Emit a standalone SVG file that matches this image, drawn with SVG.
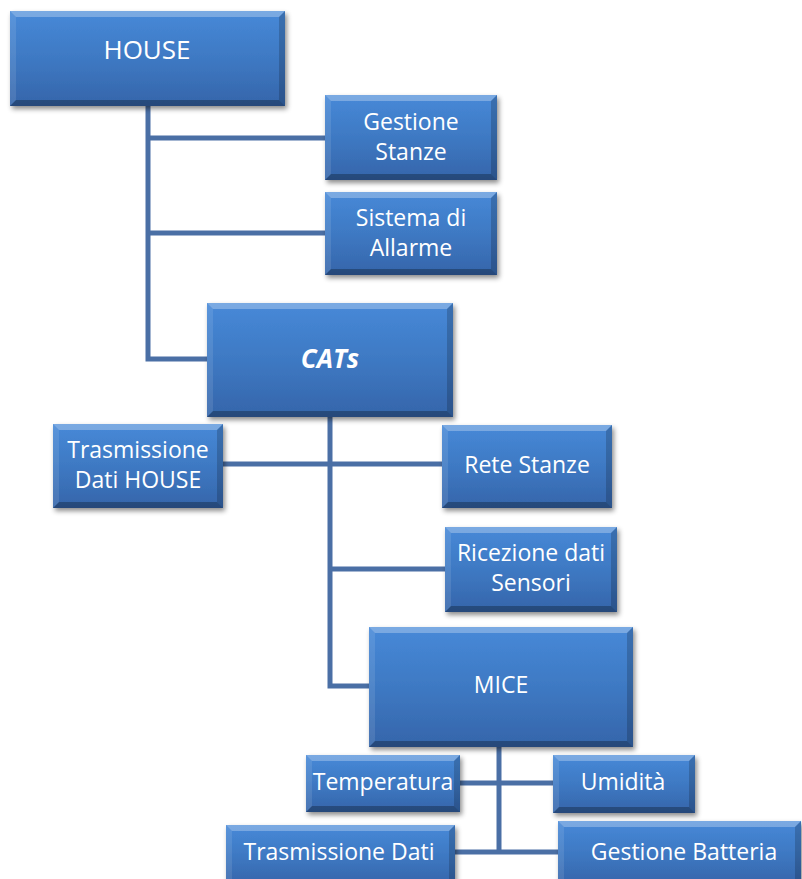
<svg xmlns="http://www.w3.org/2000/svg" width="802" height="879" viewBox="0 0 802 879">
<defs>
<linearGradient id="fillg" x1="0" y1="0" x2="0" y2="1">
<stop offset="0" stop-color="#4789d8"/>
<stop offset="0.5" stop-color="#3e79c3"/>
<stop offset="1" stop-color="#3565aa"/>
</linearGradient>
<filter id="shadow" x="-10%" y="-10%" width="125%" height="130%">
<feDropShadow dx="2" dy="3" stdDeviation="2.5" flood-color="#000" flood-opacity="0.45"/>
</filter>
<style>
.box{fill:url(#fillg);filter:url(#shadow);}
.bt{fill:#ffffff;fill-opacity:0.28;}
.bb{fill:#000000;fill-opacity:0.28;}
.bl{fill:#ffffff;fill-opacity:0.1;}
.br{fill:#000000;fill-opacity:0.18;}
.lbl{font-family:"Open Sans","Liberation Sans",sans-serif;font-size:23px;fill:#ffffff;text-anchor:middle;}
.big{font-size:26px;}
.bi{font-weight:bold;font-style:italic;}
.conn{fill:none;stroke:#4a6fa5;stroke-width:5;}
</style>
</defs>
<rect width="802" height="879" fill="#ffffff"/>
<g id="connectors">
<path class="conn" d="M148,106 V359 H207"/>
<path class="conn" d="M148,138 H325"/>
<path class="conn" d="M148,233 H325"/>
<path class="conn" d="M330,417 V686 H369"/>
<path class="conn" d="M223,464 H442"/>
<path class="conn" d="M330,569 H445"/>
<path class="conn" d="M499,747 V852"/>
<path class="conn" d="M460,783 H553"/>
<path class="conn" d="M455,852 H558"/>
</g>
<g id="house">
<rect class="box" x="10" y="11" width="275" height="95"/>
<polygon class="bt" points="10,11 285,11 279,17 16,17"/>
<polygon class="bb" points="10,106 285,106 279,100 16,100"/>
<polygon class="bl" points="10,11 16,17 16,100 10,106"/>
<polygon class="br" points="285,11 279,17 279,100 285,106"/>
<text class="lbl big" x="147" y="59">HOUSE</text>
</g>
<g id="gestione-stanze">
<rect class="box" x="325" y="95" width="172" height="85"/>
<polygon class="bt" points="325,95 497,95 491,101 331,101"/>
<polygon class="bb" points="325,180 497,180 491,174 331,174"/>
<polygon class="bl" points="325,95 331,101 331,174 325,180"/>
<polygon class="br" points="497,95 491,101 491,174 497,180"/>
<text class="lbl" x="411" y="130">Gestione</text>
<text class="lbl" x="411" y="160">Stanze</text>
</g>
<g id="sistema-allarme">
<rect class="box" x="325" y="192" width="172" height="83"/>
<polygon class="bt" points="325,192 497,192 491,198 331,198"/>
<polygon class="bb" points="325,275 497,275 491,269 331,269"/>
<polygon class="bl" points="325,192 331,198 331,269 325,275"/>
<polygon class="br" points="497,192 491,198 491,269 497,275"/>
<text class="lbl" x="411" y="226">Sistema di</text>
<text class="lbl" x="411" y="256">Allarme</text>
</g>
<g id="cats">
<rect class="box" x="207" y="303" width="246" height="114"/>
<polygon class="bt" points="207,303 453,303 447,309 213,309"/>
<polygon class="bb" points="207,417 453,417 447,411 213,411"/>
<polygon class="bl" points="207,303 213,309 213,411 207,417"/>
<polygon class="br" points="453,303 447,309 447,411 453,417"/>
<text class="lbl big bi" x="330" y="368">CATs</text>
</g>
<g id="trasmissione-dati-house">
<rect class="box" x="53" y="424" width="170" height="84"/>
<polygon class="bt" points="53,424 223,424 217,430 59,430"/>
<polygon class="bb" points="53,508 223,508 217,502 59,502"/>
<polygon class="bl" points="53,424 59,430 59,502 53,508"/>
<polygon class="br" points="223,424 217,430 217,502 223,508"/>
<text class="lbl" x="138" y="458">Trasmissione</text>
<text class="lbl" x="138" y="488">Dati HOUSE</text>
</g>
<g id="rete-stanze">
<rect class="box" x="442" y="425" width="170" height="83"/>
<polygon class="bt" points="442,425 612,425 606,431 448,431"/>
<polygon class="bb" points="442,508 612,508 606,502 448,502"/>
<polygon class="bl" points="442,425 448,431 448,502 442,508"/>
<polygon class="br" points="612,425 606,431 606,502 612,508"/>
<text class="lbl" x="527" y="473">Rete Stanze</text>
</g>
<g id="ricezione-dati-sensori">
<rect class="box" x="445" y="527" width="172" height="85"/>
<polygon class="bt" points="445,527 617,527 611,533 451,533"/>
<polygon class="bb" points="445,612 617,612 611,606 451,606"/>
<polygon class="bl" points="445,527 451,533 451,606 445,612"/>
<polygon class="br" points="617,527 611,533 611,606 617,612"/>
<text class="lbl" x="531" y="561">Ricezione dati</text>
<text class="lbl" x="531" y="591">Sensori</text>
</g>
<g id="mice">
<rect class="box" x="369" y="627" width="264" height="120"/>
<polygon class="bt" points="369,627 633,627 627,633 375,633"/>
<polygon class="bb" points="369,747 633,747 627,741 375,741"/>
<polygon class="bl" points="369,627 375,633 375,741 369,747"/>
<polygon class="br" points="633,627 627,633 627,741 633,747"/>
<text class="lbl" x="501" y="693">MICE</text>
</g>
<g id="temperatura">
<rect class="box" x="306" y="755" width="154" height="57"/>
<polygon class="bt" points="306,755 460,755 454,761 312,761"/>
<polygon class="bb" points="306,812 460,812 454,806 312,806"/>
<polygon class="bl" points="306,755 312,761 312,806 306,812"/>
<polygon class="br" points="460,755 454,761 454,806 460,812"/>
<text class="lbl" x="383" y="790">Temperatura</text>
</g>
<g id="umidita">
<rect class="box" x="553" y="755" width="142" height="58"/>
<polygon class="bt" points="553,755 695,755 689,761 559,761"/>
<polygon class="bb" points="553,813 695,813 689,807 559,807"/>
<polygon class="bl" points="553,755 559,761 559,807 553,813"/>
<polygon class="br" points="695,755 689,761 689,807 695,813"/>
<text class="lbl" x="623" y="790">Umidità</text>
</g>
<g id="trasmissione-dati">
<rect class="box" x="226" y="825" width="229" height="60"/>
<polygon class="bt" points="226,825 455,825 449,831 232,831"/>
<polygon class="bl" points="226,825 232,831 232,885 226,885"/>
<polygon class="br" points="455,825 449,831 449,885 455,885"/>
<text class="lbl" x="339" y="860">Trasmissione Dati</text>
</g>
<g id="gestione-batteria">
<rect class="box" x="558" y="821" width="243" height="64"/>
<polygon class="bt" points="558,821 801,821 795,827 564,827"/>
<polygon class="bl" points="558,821 564,827 564,885 558,885"/>
<polygon class="br" points="801,821 795,827 795,885 801,885"/>
<text class="lbl" x="684" y="860">Gestione Batteria</text>
</g>
</svg>
